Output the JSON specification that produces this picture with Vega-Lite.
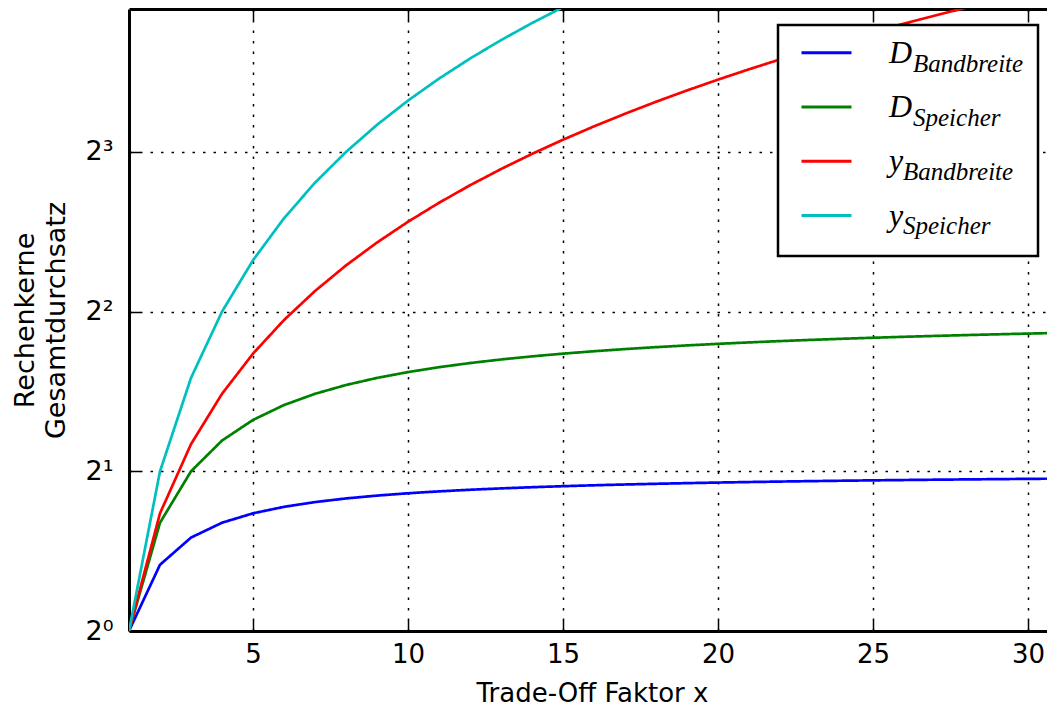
{
  "$schema": "https://vega.github.io/schema/vega-lite/v6.json",
  "width": 918,
  "height": 622,
  "autosize": {"type": "none"},
  "padding": {"left": 129, "top": 9, "right": 0, "bottom": 77},
  "background": "white",
  "config": {"view": {"stroke": null}},
  "data": {
    "values": [
      {"x": 1, "value": 1, "series": "D_Bandbreite", "sub": "D-Bandbreite"},
      {"x": 2, "value": 1.3333, "series": "D_Bandbreite", "sub": "D-Bandbreite"},
      {"x": 3, "value": 1.5, "series": "D_Bandbreite", "sub": "D-Bandbreite"},
      {"x": 4, "value": 1.6, "series": "D_Bandbreite", "sub": "D-Bandbreite"},
      {"x": 5, "value": 1.6667, "series": "D_Bandbreite", "sub": "D-Bandbreite"},
      {"x": 6, "value": 1.7143, "series": "D_Bandbreite", "sub": "D-Bandbreite"},
      {"x": 7, "value": 1.75, "series": "D_Bandbreite", "sub": "D-Bandbreite"},
      {"x": 8, "value": 1.7778, "series": "D_Bandbreite", "sub": "D-Bandbreite"},
      {"x": 9, "value": 1.8, "series": "D_Bandbreite", "sub": "D-Bandbreite"},
      {"x": 10, "value": 1.8182, "series": "D_Bandbreite", "sub": "D-Bandbreite"},
      {"x": 11, "value": 1.8333, "series": "D_Bandbreite", "sub": "D-Bandbreite"},
      {"x": 12, "value": 1.8462, "series": "D_Bandbreite", "sub": "D-Bandbreite"},
      {"x": 13, "value": 1.8571, "series": "D_Bandbreite", "sub": "D-Bandbreite"},
      {"x": 14, "value": 1.8667, "series": "D_Bandbreite", "sub": "D-Bandbreite"},
      {"x": 15, "value": 1.875, "series": "D_Bandbreite", "sub": "D-Bandbreite"},
      {"x": 16, "value": 1.8824, "series": "D_Bandbreite", "sub": "D-Bandbreite"},
      {"x": 17, "value": 1.8889, "series": "D_Bandbreite", "sub": "D-Bandbreite"},
      {"x": 18, "value": 1.8947, "series": "D_Bandbreite", "sub": "D-Bandbreite"},
      {"x": 19, "value": 1.9, "series": "D_Bandbreite", "sub": "D-Bandbreite"},
      {"x": 20, "value": 1.9048, "series": "D_Bandbreite", "sub": "D-Bandbreite"},
      {"x": 21, "value": 1.9091, "series": "D_Bandbreite", "sub": "D-Bandbreite"},
      {"x": 22, "value": 1.913, "series": "D_Bandbreite", "sub": "D-Bandbreite"},
      {"x": 23, "value": 1.9167, "series": "D_Bandbreite", "sub": "D-Bandbreite"},
      {"x": 24, "value": 1.92, "series": "D_Bandbreite", "sub": "D-Bandbreite"},
      {"x": 25, "value": 1.9231, "series": "D_Bandbreite", "sub": "D-Bandbreite"},
      {"x": 26, "value": 1.9259, "series": "D_Bandbreite", "sub": "D-Bandbreite"},
      {"x": 27, "value": 1.9286, "series": "D_Bandbreite", "sub": "D-Bandbreite"},
      {"x": 28, "value": 1.931, "series": "D_Bandbreite", "sub": "D-Bandbreite"},
      {"x": 29, "value": 1.9333, "series": "D_Bandbreite", "sub": "D-Bandbreite"},
      {"x": 30, "value": 1.9355, "series": "D_Bandbreite", "sub": "D-Bandbreite"},
      {"x": 31, "value": 1.9375, "series": "D_Bandbreite", "sub": "D-Bandbreite"},
      {"x": 1, "value": 1, "series": "D_Speicher", "sub": "D-Speicher"},
      {"x": 2, "value": 1.6, "series": "D_Speicher", "sub": "D-Speicher"},
      {"x": 3, "value": 2, "series": "D_Speicher", "sub": "D-Speicher"},
      {"x": 4, "value": 2.2857, "series": "D_Speicher", "sub": "D-Speicher"},
      {"x": 5, "value": 2.5, "series": "D_Speicher", "sub": "D-Speicher"},
      {"x": 6, "value": 2.6667, "series": "D_Speicher", "sub": "D-Speicher"},
      {"x": 7, "value": 2.8, "series": "D_Speicher", "sub": "D-Speicher"},
      {"x": 8, "value": 2.9091, "series": "D_Speicher", "sub": "D-Speicher"},
      {"x": 9, "value": 3, "series": "D_Speicher", "sub": "D-Speicher"},
      {"x": 10, "value": 3.0769, "series": "D_Speicher", "sub": "D-Speicher"},
      {"x": 11, "value": 3.1429, "series": "D_Speicher", "sub": "D-Speicher"},
      {"x": 12, "value": 3.2, "series": "D_Speicher", "sub": "D-Speicher"},
      {"x": 13, "value": 3.25, "series": "D_Speicher", "sub": "D-Speicher"},
      {"x": 14, "value": 3.2941, "series": "D_Speicher", "sub": "D-Speicher"},
      {"x": 15, "value": 3.3333, "series": "D_Speicher", "sub": "D-Speicher"},
      {"x": 16, "value": 3.3684, "series": "D_Speicher", "sub": "D-Speicher"},
      {"x": 17, "value": 3.4, "series": "D_Speicher", "sub": "D-Speicher"},
      {"x": 18, "value": 3.4286, "series": "D_Speicher", "sub": "D-Speicher"},
      {"x": 19, "value": 3.4545, "series": "D_Speicher", "sub": "D-Speicher"},
      {"x": 20, "value": 3.4783, "series": "D_Speicher", "sub": "D-Speicher"},
      {"x": 21, "value": 3.5, "series": "D_Speicher", "sub": "D-Speicher"},
      {"x": 22, "value": 3.52, "series": "D_Speicher", "sub": "D-Speicher"},
      {"x": 23, "value": 3.5385, "series": "D_Speicher", "sub": "D-Speicher"},
      {"x": 24, "value": 3.5556, "series": "D_Speicher", "sub": "D-Speicher"},
      {"x": 25, "value": 3.5714, "series": "D_Speicher", "sub": "D-Speicher"},
      {"x": 26, "value": 3.5862, "series": "D_Speicher", "sub": "D-Speicher"},
      {"x": 27, "value": 3.6, "series": "D_Speicher", "sub": "D-Speicher"},
      {"x": 28, "value": 3.6129, "series": "D_Speicher", "sub": "D-Speicher"},
      {"x": 29, "value": 3.625, "series": "D_Speicher", "sub": "D-Speicher"},
      {"x": 30, "value": 3.6364, "series": "D_Speicher", "sub": "D-Speicher"},
      {"x": 31, "value": 3.6471, "series": "D_Speicher", "sub": "D-Speicher"},
      {"x": 1, "value": 1, "series": "y_Bandbreite", "sub": "y-Bandbreite"},
      {"x": 2, "value": 1.6667, "series": "y_Bandbreite", "sub": "y-Bandbreite"},
      {"x": 3, "value": 2.25, "series": "y_Bandbreite", "sub": "y-Bandbreite"},
      {"x": 4, "value": 2.8, "series": "y_Bandbreite", "sub": "y-Bandbreite"},
      {"x": 5, "value": 3.3333, "series": "y_Bandbreite", "sub": "y-Bandbreite"},
      {"x": 6, "value": 3.8571, "series": "y_Bandbreite", "sub": "y-Bandbreite"},
      {"x": 7, "value": 4.375, "series": "y_Bandbreite", "sub": "y-Bandbreite"},
      {"x": 8, "value": 4.8889, "series": "y_Bandbreite", "sub": "y-Bandbreite"},
      {"x": 9, "value": 5.4, "series": "y_Bandbreite", "sub": "y-Bandbreite"},
      {"x": 10, "value": 5.9091, "series": "y_Bandbreite", "sub": "y-Bandbreite"},
      {"x": 11, "value": 6.4167, "series": "y_Bandbreite", "sub": "y-Bandbreite"},
      {"x": 12, "value": 6.9231, "series": "y_Bandbreite", "sub": "y-Bandbreite"},
      {"x": 13, "value": 7.4286, "series": "y_Bandbreite", "sub": "y-Bandbreite"},
      {"x": 14, "value": 7.9333, "series": "y_Bandbreite", "sub": "y-Bandbreite"},
      {"x": 15, "value": 8.4375, "series": "y_Bandbreite", "sub": "y-Bandbreite"},
      {"x": 16, "value": 8.9412, "series": "y_Bandbreite", "sub": "y-Bandbreite"},
      {"x": 17, "value": 9.4444, "series": "y_Bandbreite", "sub": "y-Bandbreite"},
      {"x": 18, "value": 9.9474, "series": "y_Bandbreite", "sub": "y-Bandbreite"},
      {"x": 19, "value": 10.45, "series": "y_Bandbreite", "sub": "y-Bandbreite"},
      {"x": 20, "value": 10.9524, "series": "y_Bandbreite", "sub": "y-Bandbreite"},
      {"x": 21, "value": 11.4545, "series": "y_Bandbreite", "sub": "y-Bandbreite"},
      {"x": 22, "value": 11.9565, "series": "y_Bandbreite", "sub": "y-Bandbreite"},
      {"x": 23, "value": 12.4583, "series": "y_Bandbreite", "sub": "y-Bandbreite"},
      {"x": 24, "value": 12.96, "series": "y_Bandbreite", "sub": "y-Bandbreite"},
      {"x": 25, "value": 13.4615, "series": "y_Bandbreite", "sub": "y-Bandbreite"},
      {"x": 26, "value": 13.963, "series": "y_Bandbreite", "sub": "y-Bandbreite"},
      {"x": 27, "value": 14.4643, "series": "y_Bandbreite", "sub": "y-Bandbreite"},
      {"x": 28, "value": 14.9655, "series": "y_Bandbreite", "sub": "y-Bandbreite"},
      {"x": 29, "value": 15.4667, "series": "y_Bandbreite", "sub": "y-Bandbreite"},
      {"x": 1, "value": 1, "series": "y_Speicher", "sub": "y-Speicher"},
      {"x": 2, "value": 2, "series": "y_Speicher", "sub": "y-Speicher"},
      {"x": 3, "value": 3, "series": "y_Speicher", "sub": "y-Speicher"},
      {"x": 4, "value": 4, "series": "y_Speicher", "sub": "y-Speicher"},
      {"x": 5, "value": 5, "series": "y_Speicher", "sub": "y-Speicher"},
      {"x": 6, "value": 6, "series": "y_Speicher", "sub": "y-Speicher"},
      {"x": 7, "value": 7, "series": "y_Speicher", "sub": "y-Speicher"},
      {"x": 8, "value": 8, "series": "y_Speicher", "sub": "y-Speicher"},
      {"x": 9, "value": 9, "series": "y_Speicher", "sub": "y-Speicher"},
      {"x": 10, "value": 10, "series": "y_Speicher", "sub": "y-Speicher"},
      {"x": 11, "value": 11, "series": "y_Speicher", "sub": "y-Speicher"},
      {"x": 12, "value": 12, "series": "y_Speicher", "sub": "y-Speicher"},
      {"x": 13, "value": 13, "series": "y_Speicher", "sub": "y-Speicher"},
      {"x": 14, "value": 14, "series": "y_Speicher", "sub": "y-Speicher"},
      {"x": 15, "value": 15, "series": "y_Speicher", "sub": "y-Speicher"},
      {"x": 16, "value": 16, "series": "y_Speicher", "sub": "y-Speicher"}
    ]
  },
  "layer": [
    {
      "mark": {"type": "line", "strokeWidth": 2.7, "clip": true},
      "encoding": {
        "x": {
          "field": "x",
          "type": "quantitative",
          "scale": {"domain": [1, 30.61], "nice": false, "zero": false},
          "axis": {
            "values": [5, 10, 15, 20, 25, 30],
            "format": "d",
            "labelFont": "DejaVu Sans",
            "labelFontSize": 26,
            "labelColor": "black",
            "labelPadding": 21,
            "labelFlush": false,
            "labelOverlap": false,
            "tickSize": -11,
            "tickWidth": 1.5,
            "tickColor": "black",
            "domainColor": "black",
            "domainWidth": 3,
            "grid": true,
            "gridColor": "black",
            "gridDash": [2.5, 8],
            "gridWidth": 1.5,
            "gridOpacity": 1,
            "title": "Trade-Off Faktor x",
            "titleFont": "DejaVu Sans",
            "titleFontSize": 26,
            "titleFontWeight": "normal",
            "titleColor": "black",
            "titleX": 463,
            "titleY": 70,
            "titleAlign": "center",
            "titleBaseline": "alphabetic"
          }
        },
        "y": {
          "field": "value",
          "type": "quantitative",
          "scale": {"type": "log", "base": 2, "domain": [1, 14.88], "nice": false},
          "axis": {
            "values": [1, 2, 4, 8],
            "labelExpr": "datum.value == 1 ? '2⁰' : datum.value == 2 ? '2¹' : datum.value == 4 ? '2²' : '2³'",
            "labelFont": "DejaVu Sans",
            "labelFontSize": 27,
            "labelColor": "black",
            "labelPadding": 27,
            "labelOverlap": false,
            "labelFlush": false,
            "tickSize": -11,
            "tickWidth": 1.5,
            "tickColor": "black",
            "domainColor": "black",
            "domainWidth": 3,
            "grid": true,
            "gridColor": "black",
            "gridDash": [2.5, 8],
            "gridWidth": 1.5,
            "gridOpacity": 1,
            "title": ["Rechenkerne", "Gesamtdurchsatz"],
            "titleFont": "DejaVu Sans",
            "titleFontSize": 27,
            "titleFontWeight": "normal",
            "titleColor": "black",
            "titleX": -96,
            "titleY": 311,
            "titleAngle": -90,
            "titleAlign": "center",
            "titleBaseline": "alphabetic",
            "titleLineHeight": 31
          }
        },
        "color": {
          "field": "series",
          "type": "nominal",
          "scale": {
            "domain": ["D_Bandbreite", "D_Speicher", "y_Bandbreite", "y_Speicher"],
            "range": ["#0000ff", "#008000", "#ff0000", "#00bfbf"]
          },
          "legend": {
            "orient": "none",
            "legendX": 671,
            "legendY": 26.7,
            "title": null,
            "symbolType": "stroke",
            "symbolSize": 2500,
            "symbolStrokeWidth": 3,
            "labelExpr": "substring(datum.label, 0, 1)",
            "labelFont": "Liberation Serif",
            "labelFontStyle": "italic",
            "labelFontSize": 32,
            "labelColor": "black",
            "labelOffset": 36,
            "labelBaseline": "middle",
            "clipHeight": 34,
            "rowPadding": 20.3,
            "padding": 0,
            "zindex": 2
          }
        },
        "strokeDash": {
          "field": "sub",
          "type": "nominal",
          "scale": {
            "domain": ["D-Bandbreite", "D-Speicher", "y-Bandbreite", "y-Speicher"],
            "range": [[1, 0], [1, 0], [1, 0], [1, 0]]
          },
          "legend": {
            "orient": "none",
            "legendX": 649,
            "legendY": 16,
            "title": null,
            "symbolType": "stroke",
            "symbolSize": 2500,
            "symbolStrokeWidth": 3,
            "symbolOpacity": 0,
            "labelExpr": "substring(datum.label, 2)",
            "labelFont": "Liberation Serif",
            "labelFontStyle": "italic",
            "labelFontSize": 25,
            "labelColor": "black",
            "labelOffset": 68,
            "labelBaseline": "middle",
            "clipHeight": 40,
            "rowPadding": 14.3,
            "padding": 14,
            "fillColor": "white",
            "strokeColor": "black",
            "zindex": 1,
            "encode": {
              "labels": {"update": {
                "dy": {"value": 4.5},
                "dx": {"signal": "substring(datum.label, 0, 1) == 'y' ? -10 : 0"}
              }},
              "legend": {"update": {"strokeWidth": {"value": 2.5}}}
            }
          }
        }
      }
    },
    {
      "mark": {"type": "rule", "opacity": 0},
      "encoding": {
        "x": {
          "field": "x",
          "type": "quantitative",
          "axis": {
            "orient": "top",
            "values": [5, 10, 15, 20, 25, 30],
            "labels": false,
            "ticks": true,
            "tickSize": -11,
            "tickWidth": 1.5,
            "tickColor": "black",
            "domain": true,
            "domainColor": "black",
            "domainWidth": 3,
            "grid": false,
            "title": null
          }
        }
      }
    }
  ],
  "resolve": {"axis": {"x": "independent"}}
}
